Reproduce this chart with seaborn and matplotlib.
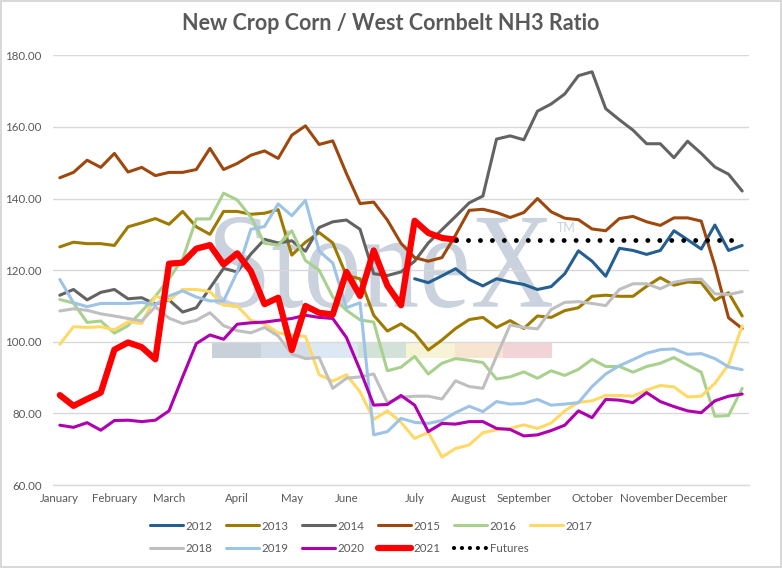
import numpy as np
import pandas as pd
import matplotlib
matplotlib.use("Agg")
import matplotlib.pyplot as plt
import seaborn as sns
from matplotlib.lines import Line2D
from matplotlib.patches import PathPatch, Rectangle
from matplotlib.textpath import TextPath
from matplotlib.font_manager import FontProperties
from matplotlib.ticker import StrMethodFormatter
from matplotlib.transforms import Affine2D

# Week index of the crop year
weeks = list(range(51))

# Month labels and the week each one sits on
month_labels = ["January", "February", "March", "April", "May", "June", "July",
                "August", "September", "October", "November", "December"]
month_weeks = [0, 4, 8, 13, 17, 21, 26, 30, 34, 39, 43, 47]

nan = np.nan

# Corn / NH3 ratio per week, one list per year
ratio_2012 = [nan] * 26 + [117.6, 116.5, 118.4, 120.4, 117.4, 115.6, 117.6, 116.7, 116.0, 114.6,
                           115.4, 119.0, 125.4, 122.5, 118.3, 126.1, 125.5, 124.4, 125.5, 131.0,
                           128.5, 125.9, 132.6, 125.5, 126.9]
ratio_2013 = [126.5, 127.8, 127.4, 127.4, 126.9, 132.1, 133.2, 134.4, 132.8, 136.4,
              132.1, 130.0, 136.4, 136.4, 135.6, 135.9, 136.9, 124.2, 127.8, 130.5,
              127.6, 118.5, 117.6, 107.4, 103.0, 105.0, 102.4, 97.7, 100.5, 103.7,
              106.2, 106.8, 104.0, 105.9, 103.7, 107.2, 106.8, 108.7, 109.5, 112.7,
              113.0, 112.7, 112.7, 115.5, 117.9, 115.8, 116.7, 116.5, 111.6, 113.7, 107.2]
ratio_2014 = [113.0, 114.6, 111.7, 113.8, 114.6, 112.0, 112.3, 110.5, 111.7, 108.3,
              109.5, 115.0, 120.5, 119.5, 124.5, 128.6, 127.6, 128.2, 125.3, 131.9,
              133.5, 134.0, 131.4, 119.0, 118.5, 119.5, 122.5, 127.6, 131.3, 135.0,
              138.8, 140.7, 156.6, 157.5, 156.4, 164.4, 166.4, 169.2, 174.3, 175.4,
              165.1, 162.0, 159.1, 155.3, 155.3, 151.4, 156.0, 152.6, 148.8, 146.8, 142.1]
ratio_2015 = [145.8, 147.3, 150.7, 148.7, 152.6, 147.4, 148.7, 146.4, 147.3, 147.3,
              148.1, 154.0, 148.1, 149.8, 152.1, 153.3, 151.2, 157.7, 160.3, 155.1,
              156.1, 147.0, 138.6, 139.0, 134.0, 127.5, 123.5, 122.5, 123.5, 129.8,
              136.7, 137.0, 136.1, 134.7, 136.1, 140.0, 136.3, 134.5, 134.1, 131.5,
              131.0, 134.4, 135.0, 133.5, 132.5, 134.6, 134.6, 133.7, 121.2, 106.7, 103.7]
ratio_2016 = [111.8, 110.8, 105.4, 105.8, 102.4, 104.5, 108.5, 112.7, 117.6, 123.1,
              134.3, 134.3, 141.5, 139.6, 134.8, 127.5, 127.0, 131.0, 122.7, 120.0,
              112.5, 108.8, 106.1, 105.5, 91.9, 92.9, 95.9, 91.0, 94.0, 95.3,
              94.8, 94.2, 89.6, 90.2, 91.6, 89.8, 91.9, 90.6, 92.3, 95.1,
              93.1, 93.1, 91.5, 93.1, 94.0, 95.6, 93.5, 91.5, 79.2, 79.4, 87.0]
ratio_2017 = [99.3, 104.2, 104.0, 104.2, 103.3, 105.6, 105.1, 112.7, 111.6, 114.6,
              114.6, 114.0, 110.2, 110.0, 106.0, 105.0, 102.5, 101.8, 101.5, 90.8,
              89.0, 90.8, 86.0, 78.3, 80.7, 77.5, 73.0, 74.7, 67.8, 70.2,
              71.2, 74.6, 75.4, 75.8, 76.8, 75.8, 77.3, 80.7, 83.1, 83.5,
              85.0, 85.0, 84.8, 86.5, 87.8, 87.4, 84.6, 84.8, 88.4, 93.6, 104.4]
ratio_2018 = [108.6, 109.2, 108.8, 107.8, 107.2, 106.5, 105.8, 109.8, 106.6, 105.1,
              106.0, 108.1, 104.5, 103.1, 102.5, 104.0, 101.6, 96.6, 95.3, 95.6,
              87.0, 89.8, 90.2, 91.0, 83.0, 84.5, 84.8, 84.8, 84.0, 89.1,
              87.5, 87.0, 96.0, 104.7, 104.0, 103.6, 109.0, 111.0, 111.2, 110.7,
              110.1, 114.6, 116.2, 116.2, 114.8, 116.6, 117.3, 117.5, 113.4, 113.2, 114.0]
ratio_2019 = [117.4, 110.9, 109.8, 110.7, 110.7, 110.7, 111.0, 110.3, 112.8, 114.2,
              112.5, 111.4, 111.4, 119.5, 131.4, 132.2, 138.5, 135.2, 139.5, 125.3,
              122.0, 109.5, 110.9, 74.0, 74.9, 78.6, 77.5, 77.2, 78.0, 80.2,
              82.0, 80.5, 83.3, 82.6, 82.8, 83.9, 82.3, 82.6, 83.0, 87.5,
              91.0, 93.3, 95.0, 96.8, 97.8, 98.0, 96.5, 96.7, 95.3, 93.0, 92.2]
ratio_2020 = [76.7, 76.1, 77.4, 75.3, 78.0, 78.1, 77.7, 78.1, 80.7, 90.2,
              99.5, 101.9, 100.7, 104.9, 105.3, 105.5, 106.0, 106.5, 107.4, 106.8,
              106.5, 101.2, 92.1, 82.3, 82.5, 85.0, 82.3, 74.9, 77.2, 77.0,
              77.7, 77.7, 75.8, 75.5, 73.7, 74.0, 75.2, 76.7, 80.7, 78.8,
              83.9, 83.7, 83.0, 85.8, 83.3, 81.9, 80.7, 80.2, 83.5, 84.8, 85.4]
ratio_2021 = [85.1, 82.1, 84.0, 85.8, 97.8, 99.8, 98.5, 95.1, 121.8, 122.1,
              126.0, 127.0, 121.6, 124.7, 119.7, 110.5, 112.3, 97.7, 110.0, 108.1,
              107.6, 119.5, 112.8, 125.5, 115.7, 110.2, 133.8, 130.4, 129.0, 128.5] + [nan] * 21
ratio_futures = [nan] * 29 + [128.4, 128.4, 128.4, 128.4, 128.4, 128.4, 128.4, 128.4, 128.4, 128.4,
                              128.4, 128.4, 128.4, 128.4, 128.4, 128.4, 128.4, 128.4, 128.4, 128.4,
                              128.4, 128.4]

series_names = ["2012", "2013", "2014", "2015", "2016", "2017",
                "2018", "2019", "2020", "2021", "Futures"]
series_values = [ratio_2012, ratio_2013, ratio_2014, ratio_2015, ratio_2016, ratio_2017,
                 ratio_2018, ratio_2019, ratio_2020, ratio_2021, ratio_futures]

colors = {"2012": "#255E91", "2013": "#9E7A00", "2014": "#636363", "2015": "#9E480E",
          "2016": "#A9D18E", "2017": "#FFD966", "2018": "#BFBFBF", "2019": "#9DC3E6",
          "2020": "#AE00AE", "2021": "#FF0000", "Futures": "#000000"}

# Long table for seaborn
df = pd.DataFrame({"week": weeks})
for name, values in zip(series_names, series_values):
    df[name] = values
df = df.melt(id_vars="week", var_name="year", value_name="ratio").dropna()

sns.set_theme(style="white")
plt.rcParams["font.family"] = ["Lato", "DejaVu Sans"]

text_grey = "#595959"
grid_grey = "#D9D9D9"

fig = plt.figure(figsize=(7.82, 5.68), dpi=100)
fig.patch.set_edgecolor(grid_grey)
fig.patch.set_linewidth(1.5)
ax = fig.add_axes([53 / 782, 83 / 568, 696 / 782, 429.7 / 568])

# Watermark behind the lines
wm_color = "#C9D2DD"
tp = TextPath((0, 0), "StoneX", size=100, prop=FontProperties(family="Liberation Serif"))
ext = tp.get_extents()
wm_tr = (Affine2D().translate(-ext.x0, -ext.y0)
         .scale(0.484 / ext.width, 0.212 / ext.height)
         .translate(0.2328, 0.4119) + ax.transAxes)
ax.add_patch(PathPatch(tp, transform=wm_tr, facecolor=wm_color, edgecolor="none", zorder=0.2))
ax.text(0.724, 0.612, "TM", transform=ax.transAxes, fontsize=9, color=wm_color,
        va="top", ha="left", zorder=0.2)
bar_colors = ["#C8D0DA", "#D4DEEA", "#DCE8F3", "#D3E2D8", "#F6F3D6", "#F7E5D2", "#F2D3D6"]
for k, c in enumerate(bar_colors):
    ax.add_patch(Rectangle((0.2284 + k * 0.0698, 0.2956), 0.0698, 0.0372,
                           transform=ax.transAxes, facecolor=c, edgecolor="none", zorder=0.2))

# Lines
for name in series_names:
    sub = df[df["year"] == name]
    if name == "Futures":
        sns.lineplot(data=sub, x="week", y="ratio", ax=ax, color=colors[name], linewidth=3.5,
                     linestyle=(0, (0.01, 2.45)), dash_capstyle="round", legend=False,
                     errorbar=None, zorder=4)
    elif name == "2021":
        sns.lineplot(data=sub, x="week", y="ratio", ax=ax, color=colors[name], linewidth=4.5,
                     solid_joinstyle="round", legend=False, errorbar=None, zorder=3)
    else:
        sns.lineplot(data=sub, x="week", y="ratio", ax=ax, color=colors[name], linewidth=2.2,
                     solid_joinstyle="round", legend=False, errorbar=None, zorder=2)

ax.set_xlim(-0.5, 50.5)
ax.set_ylim(60, 180)
ax.set_yticks(range(60, 181, 20))
ax.yaxis.set_major_formatter(StrMethodFormatter("{x:.2f}"))
ax.set_xticks(month_weeks)
ax.set_xticklabels(month_labels)
ax.set_xlabel("")
ax.set_ylabel("")
ax.set_axisbelow(True)
ax.yaxis.grid(True, color=grid_grey, linewidth=1.0)
ax.xaxis.grid(False)
for side in ["left", "right", "top"]:
    ax.spines[side].set_visible(False)
ax.spines["bottom"].set_color(grid_grey)
ax.spines["bottom"].set_linewidth(1.0)
ax.tick_params(axis="y", length=0, pad=8, labelsize=8.3, labelcolor=text_grey)
ax.tick_params(axis="x", length=0, pad=6, labelsize=8.3, labelcolor=text_grey)
ax.set_facecolor("white")

fig.text(0.5, 1 - 24 / 568, "New Crop Corn / West Cornbelt NH3 Ratio", ha="center", va="center",
         fontsize=15.5, fontweight="bold", color=text_grey)

# Legend in two rows
def handle(name):
    if name == "Futures":
        return Line2D([], [], color="black", linewidth=3.0, linestyle=(0, (0.01, 1.9)),
                      dash_capstyle="round")
    lw = 4.5 if name == "2021" else 2.2
    return Line2D([], [], color=colors[name], linewidth=lw)

rows = [series_names[:6], series_names[6:]]
row_y = [1 - 526 / 568, 1 - 549 / 568]
for names, y in zip(rows, row_y):
    fig.legend(handles=[handle(n) for n in names], labels=names, ncol=len(names),
               loc="center left", bbox_to_anchor=(150 / 782, y), frameon=False,
               fontsize=8.3, labelcolor=text_grey, handlelength=2.9, handletextpad=0.2,
               columnspacing=1.15, borderpad=0, borderaxespad=0)

fig.savefig("out.png", dpi=100, facecolor="white", edgecolor=fig.get_edgecolor())
